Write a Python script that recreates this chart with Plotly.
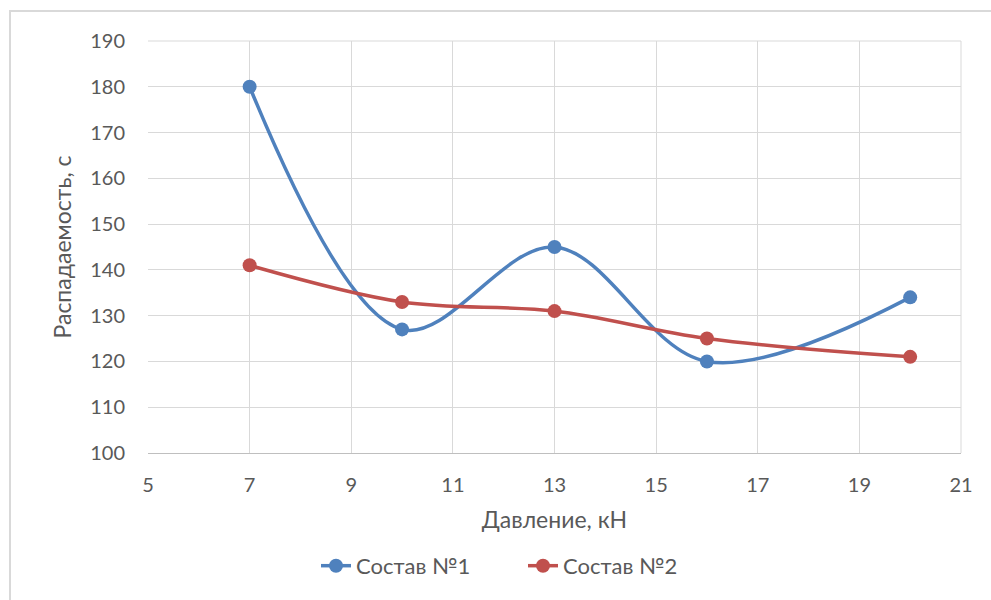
import plotly.graph_objects as go

# Давление, кН
pressure = [7, 10, 13, 16, 20]
# Распадаемость, с
series1 = [180, 127, 145, 120, 134]
series2 = [141, 133, 131, 125, 121]
names = ["Состав №1", "Состав №2"]
colors = ["#4f81bd", "#c0504d"]

x_ticks = [5, 7, 9, 11, 13, 15, 17, 19, 21]
y_ticks = [100, 110, 120, 130, 140, 150, 160, 170, 180, 190]

W, H = 991, 600
L, R, T, B = 148, 30, 41, 147
FONT = "Lato"
TXT = "#595959"
GRID = "#d9d9d9"

fig = go.Figure()
for name, ys, col in zip(names, [series1, series2], colors):
    fig.add_trace(go.Scatter(
        x=pressure, y=ys, name=name, mode="lines+markers",
        line=dict(color=col, width=3.5, shape="spline", smoothing=1.0),
        marker=dict(color=col, size=14),
    ))

pw, ph = W - L - R, H - T - B
# outer chart frame
fig.add_shape(type="rect", xref="paper", yref="paper",
              x0=(10 - L) / pw, x1=(W + 5 - L) / pw,
              y0=-(H + 5 - T - ph) / ph, y1=1 + (T - 11) / ph,
              line=dict(color="#d9d9d9", width=2), layer="below")

fig.update_layout(
    width=W, height=H,
    margin=dict(l=L, r=R, t=T, b=B),
    paper_bgcolor="white", plot_bgcolor="white",
    font=dict(family=FONT, color=TXT, size=20),
    showlegend=True,
    legend=dict(orientation="h", x=(316 - L) / pw, y=-0.274, xanchor="left", yanchor="middle",
                font=dict(size=22, color=TXT), entrywidth=162, entrywidthmode="pixels",
                tracegroupgap=0),
    xaxis=dict(range=[5, 21], tickvals=x_ticks, showgrid=True, gridcolor=GRID, gridwidth=1,
               zeroline=False, showline=True, linecolor="#bfbfbf", linewidth=1,
               mirror=False, ticks="", ticklabelstandoff=14,
               title=dict(text="Давление, кН", font=dict(size=23, color=TXT), standoff=16)),
    yaxis=dict(range=[100, 190], tickvals=y_ticks, showgrid=True, gridcolor=GRID, gridwidth=1,
               zeroline=False, showline=False, ticks="", ticklabelstandoff=22,
               title=dict(text="Распадаемость, с", font=dict(size=23, color=TXT), standoff=12)),
)
# top and right borders of the plot area
fig.add_shape(type="line", xref="paper", yref="paper", x0=0, x1=1, y0=1, y1=1,
              line=dict(color=GRID, width=1), layer="below")
fig.add_shape(type="line", xref="paper", yref="paper", x0=1, x1=1, y0=0, y1=1,
              line=dict(color=GRID, width=1), layer="below")

fig.write_html("out.html")
